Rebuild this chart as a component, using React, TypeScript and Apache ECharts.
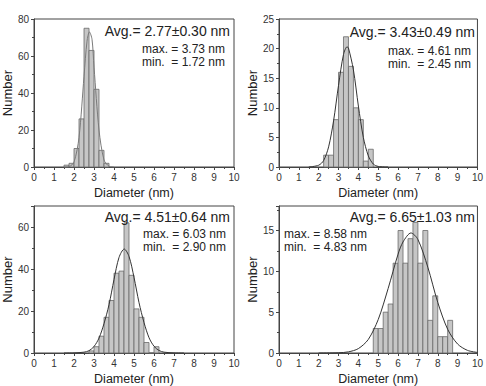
import React, { useEffect, useRef } from "react";
import * as echarts from "echarts";

const BIN_WIDTH = 0.25;

// Panel 1
const p1Edges = [1.5, 1.75, 2.0, 2.25, 2.5, 2.75, 3.0, 3.25, 3.5];
const p1Counts = [1, 2, 10, 26, 75, 63, 42, 9, 2];
const p1FitX = [1.5, 1.75, 2.0, 2.25, 2.5, 2.65, 2.77, 2.9, 3.0, 3.25, 3.5, 3.75, 4.0];
const p1FitY = [0, 0.2, 2.7, 16, 49, 68, 73, 69, 54, 20, 3.8, 0.4, 0];

// Panel 2
const p2Edges = [2.25, 2.5, 2.75, 3.0, 3.25, 3.5, 3.75, 4.0, 4.25, 4.5];
const p2Counts = [2, 2, 8, 16, 22, 17, 10, 8, 1, 3];
const p2FitX = [1.5, 2.0, 2.25, 2.5, 2.75, 3.0, 3.25, 3.43, 3.5, 3.75, 4.0, 4.25, 4.5, 4.75, 5.0, 5.5];
const p2FitY = [0, 0.3, 1.1, 3.4, 7.8, 13.8, 19.0, 20.3, 20.1, 16.4, 10.3, 5.0, 1.9, 0.5, 0.1, 0];

// Panel 3
const p3Edges = [2.75, 3.0, 3.25, 3.5, 3.75, 4.0, 4.25, 4.5, 4.75, 5.0, 5.25, 5.5, 5.75, 6.0];
const p3Counts = [1, 3, 8, 17, 25, 38, 39, 62, 37, 21, 17, 5, 0, 3];
const p3FitX = [1.5, 2.0, 2.5, 2.75, 3.0, 3.25, 3.5, 3.75, 4.0, 4.25, 4.51, 4.75, 5.0, 5.25, 5.5, 5.75, 6.0, 6.25, 6.5, 7.0, 7.5];
const p3FitY = [0, 0.05, 0.4, 1.1, 3.1, 7.1, 14, 23, 35, 45.5, 49.5, 46, 36, 24, 14.5, 7.3, 3.2, 1.2, 0.4, 0.05, 0];

// Panel 4
const p4Edges = [4.75, 5.0, 5.25, 5.5, 5.75, 6.0, 6.25, 6.5, 6.75, 7.0, 7.25, 7.5, 7.75, 8.0, 8.25, 8.5];
const p4Counts = [3, 3, 5, 6, 11, 15, 11, 14, 16, 11, 15, 4, 7, 2, 2, 4];
const p4FitX = [2, 3, 3.5, 4, 4.5, 5, 5.5, 6, 6.25, 6.65, 7, 7.5, 8, 8.5, 9, 9.5, 10];
const p4FitY = [0, 0.03, 0.14, 0.54, 1.66, 4.1, 7.9, 12.1, 13.6, 14.7, 13.9, 10.5, 6.2, 2.9, 1.1, 0.32, 0.07];

const xTicks = [0, 10, 1];
const yMax = [80, 25, 70, 18];
const yInterval = [20, 5, 20, 5];

const avgTexts = ["Avg.= 2.77\u00b10.30 nm", "Avg.= 3.43\u00b10.49 nm", "Avg.= 4.51\u00b10.64 nm", "Avg.= 6.65\u00b11.03 nm"];
const maxTexts = ["max. = 3.73 nm", "max. = 4.61 nm", "max. = 6.03 nm", "max. = 8.58 nm"];
const minTexts = ["min.  = 1.72 nm", "min.  = 2.45 nm", "min.  = 2.90 nm", "min.  = 4.83 nm"];

const FONT = "'Liberation Sans', Arial, sans-serif";

const panels = [
  { edges: p1Edges, counts: p1Counts, fx: p1FitX, fy: p1FitY },
  { edges: p2Edges, counts: p2Counts, fx: p2FitX, fy: p2FitY },
  { edges: p3Edges, counts: p3Counts, fx: p3FitX, fy: p3FitY },
  { edges: p4Edges, counts: p4Counts, fx: p4FitX, fy: p4FitY },
];

const grids = [
  { left: 32, top: 19, width: 202, height: 148 },
  { left: 279, top: 19, width: 201, height: 148 },
  { left: 32, top: 206, width: 202, height: 148 },
  { left: 279, top: 206, width: 201, height: 149 },
];

const textPos = [
  { ax: 230, ay: 31, mx: 142, my: 48.5, ny: 61.5 },
  { ax: 475, ay: 32, mx: 388, my: 50.5, ny: 63.5 },
  { ax: 230, ay: 217, mx: 143, my: 233.5, ny: 246.5 },
  { ax: 475, ay: 217, mx: 284, my: 233.5, ny: 246.5 },
];

export default function App() {
  const ref = useRef<HTMLDivElement>(null);
  useEffect(() => {
    if (!ref.current) return;
    const chart = echarts.init(ref.current, undefined, { renderer: "svg" });
    const axisColor = "#444";
    const xAxes = grids.map((_, i) => ({
      type: "value",
      gridIndex: i,
      min: xTicks[0],
      max: xTicks[1],
      interval: xTicks[2],
      name: "Diameter (nm)",
      nameLocation: "middle",
      nameGap: 19,
      nameTextStyle: { fontSize: 12.5, color: "#222", fontFamily: FONT },
      axisLine: { show: true, lineStyle: { color: axisColor, width: 1 } },
      axisTick: { show: true, length: 3, lineStyle: { color: axisColor } },
      minorTick: { show: true, splitNumber: 2, length: 2, lineStyle: { color: axisColor } },
      axisLabel: { fontSize: 10, color: "#333", margin: 5, fontFamily: FONT },
      splitLine: { show: false },
    }));
    const yAxes = grids.map((_, i) => ({
      type: "value",
      gridIndex: i,
      min: 0,
      max: yMax[i],
      interval: yInterval[i],
      name: "Number",
      nameLocation: "middle",
      nameGap: 18,
      nameTextStyle: { fontSize: 13, color: "#222", fontFamily: FONT },
      axisLine: { show: true, lineStyle: { color: axisColor, width: 1 } },
      axisTick: { show: true, length: 3, lineStyle: { color: axisColor } },
      minorTick: { show: true, splitNumber: 2, length: 2, lineStyle: { color: axisColor } },
      axisLabel: {
        fontSize: 10,
        color: "#333",
        margin: 5,
        fontFamily: FONT,
        formatter: (v: number) => (v % yInterval[i] === 0 ? String(v) : ""),
      },
      splitLine: { show: false },
    }));
    const series: any[] = [];
    panels.forEach((p, i) => {
      series.push({
        type: "custom",
        xAxisIndex: i,
        yAxisIndex: i,
        data: p.edges.map((e, k) => [e, e + BIN_WIDTH, p.counts[k]]),
        renderItem: (params: any, api: any) => {
          const x0 = api.value(0);
          const x1 = api.value(1);
          const h = api.value(2);
          const a = api.coord([x0, h]);
          const b = api.coord([x1, 0]);
          return {
            type: "rect",
            shape: { x: a[0], y: a[1], width: b[0] - a[0], height: b[1] - a[1] },
            style: { fill: "#c6c6c6", stroke: "#6a6a6a", lineWidth: 0.8 },
          };
        },
        encode: { x: [0, 1], y: 2 },
        z: 2,
      });
      series.push({
        type: "line",
        xAxisIndex: i,
        yAxisIndex: i,
        data: p.fx.map((x, k) => [x, p.fy[k]]),
        smooth: 0.3,
        showSymbol: false,
        symbol: "none",
        lineStyle: { color: i === 0 ? "#7a7a7a" : "#333", width: 1 },
        z: 3,
      });
    });
    const graphic: any[] = [];
    const mk = (x: number, y: number, text: string, size: number, align: string) => ({
      type: "text",
      x,
      y,
      style: {
        text,
        font: `${size}px ${FONT}`,
        lineHeight: size,
        fill: "#222",
        align,
        textAlign: align,
        verticalAlign: "middle",
        textVerticalAlign: "middle",
      },
      z: 10,
    });
    textPos.forEach((t, i) => {
      graphic.push(mk(t.ax, t.ay, avgTexts[i], 14, "right"));
      graphic.push(mk(t.mx, t.my, maxTexts[i], 12, "left"));
      graphic.push(mk(t.mx, t.ny, minTexts[i], 12, "left"));
    });
    chart.setOption({
      animation: false,
      backgroundColor: "#fff",
      grid: grids.map((g) => ({ ...g, show: true, borderColor: axisColor, borderWidth: 1, backgroundColor: "transparent" })),
      xAxis: xAxes,
      yAxis: yAxes,
      series,
      graphic,
    });
    return () => chart.dispose();
  }, []);
  return <div ref={ref} style={{ position: "fixed", left: 0, top: 0, width: 486, height: 386 }} />;
}
